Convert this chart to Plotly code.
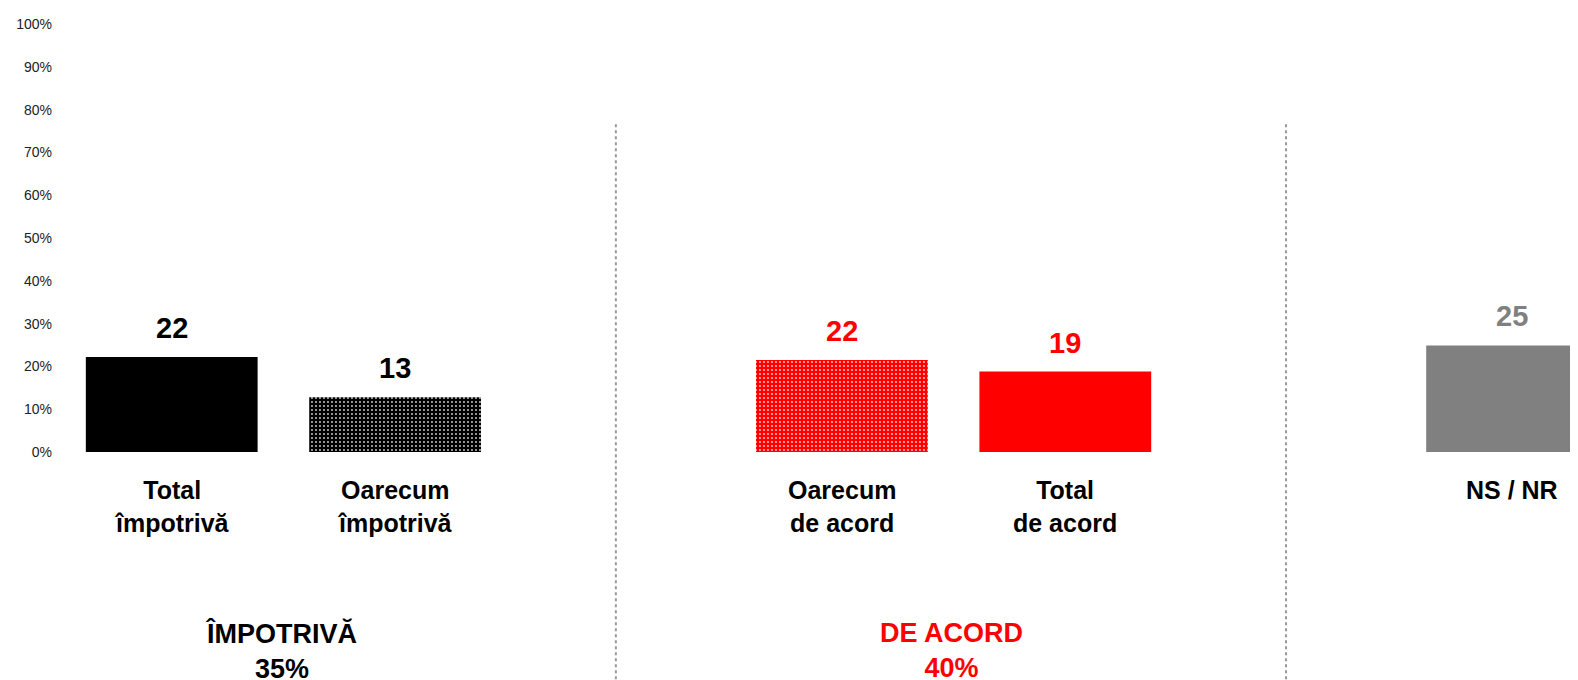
import plotly.graph_objects as go

# ---- data ----
categories = ["Total<br>împotrivă", "Oarecum<br>împotrivă", "Oarecum<br>de acord", "Total<br>de acord", "NS / NR"]
positions = [0, 1, 3, 4, 6]
values = [22.2, 12.8, 21.5, 18.8, 24.9]
value_labels = ["22", "13", "22", "19", "25"]
group_labels = ["ÎMPOTRIVĂ<br>35%", "DE ACORD<br>40%"]
group_positions = [0.5, 3.5]
divider_positions = [2, 5]
y_ticks = [0, 10, 20, 30, 40, 50, 60, 70, 80, 90, 100]
y_tick_labels = [f"{v}%" for v in y_ticks]

# ---- styles ----
bar_colors = ["#000000", "#000000", "#FF0000", "#FF0000", "#808080"]
pattern_shapes = ["", ".", ".", "", ""]
label_colors = ["#000000", "#000000", "#FF0000", "#FF0000", "#808080"]
group_colors = ["#000000", "#FF0000"]
FONT = "Liberation Sans, Arial, sans-serif"

fig = go.Figure()
fig.add_trace(go.Bar(
    x=positions,
    y=values,
    width=0.769,
    marker=dict(
        color=bar_colors,
        line=dict(width=0),
        pattern=dict(shape=pattern_shapes, fgcolor="#FFFFFF", fgopacity=0.8,
                     size=4, solidity=0.18, fillmode="overlay"),
    ),
    hoverinfo="skip",
))

annotations = []
for x, v, t, c in zip(positions, values, value_labels, label_colors):
    annotations.append(dict(x=x, y=v, xref="x", yref="y", text=f"<b>{t}</b>", showarrow=False,
                            yanchor="middle", yshift=29,
                            font=dict(family=FONT, size=29, color=c)))
for x, t in zip(positions, categories):
    annotations.append(dict(x=x, y=0, xref="x", yref="y", text=f"<b>{t}</b>", showarrow=False,
                            yanchor="top", yshift=-22,
                            font=dict(family=FONT, size=25, color="#000000")))
for x, t, c in zip(group_positions, group_labels, group_colors):
    annotations.append(dict(x=x - 0.01, y=0, xref="x", yref="y", text=f"<b>{t}</b>", showarrow=False,
                            yanchor="top", yshift=-164,
                            font=dict(family=FONT, size=27, color=c)))

shapes = []
for d in divider_positions:
    shapes.append(dict(type="line", xref="x", yref="paper", x0=d - 0.012, x1=d - 0.012,
                       y0=0.766, y1=-0.56,
                       line=dict(color="#999999", width=2, dash="dot")))

fig.update_layout(
    width=1578, height=680,
    margin=dict(l=46, r=8, t=9, b=236),
    paper_bgcolor="white", plot_bgcolor="white",
    showlegend=False,
    font=dict(family=FONT),
    annotations=annotations,
    shapes=shapes,
    xaxis=dict(range=[-0.527, 6.295], showticklabels=False, showgrid=False, zeroline=False,
               showline=False, ticks=""),
    yaxis=dict(range=[0, 100], tickvals=y_ticks, ticktext=y_tick_labels, showgrid=False,
               zeroline=False, showline=False, ticks="", ticklabelstandoff=1,
               tickfont=dict(family=FONT, size=14, color="#222222")),
)

fig.write_html("out.html")
